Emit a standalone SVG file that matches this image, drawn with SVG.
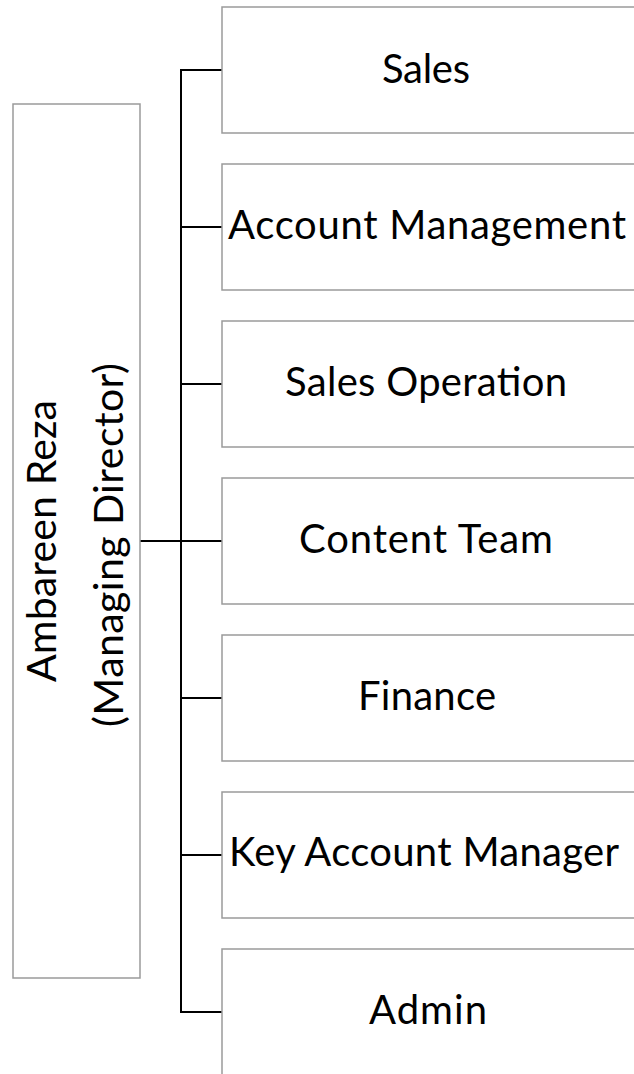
<svg xmlns="http://www.w3.org/2000/svg" width="634" height="1074" viewBox="0 0 634 1074">
  <style>
    .box { fill: #ffffff; stroke: #9a9a9a; stroke-width: 1.5; }
    .conn { fill: none; stroke: #000000; stroke-width: 2; }
    .lbl { font-family: Lato, "Liberation Sans", Arial, sans-serif; font-size: 40px; fill: #000000; text-anchor: middle; }
    .vlbl { font-family: Lato, "Liberation Sans", Arial, sans-serif; font-size: 41px; fill: #000000; text-anchor: middle; }
  </style>
  <rect width="634" height="1074" fill="#ffffff"/>

  <!-- connectors -->
  <g id="connectors">
    <path class="conn" d="M140 541 H222"/>
    <path class="conn" d="M222 70 H181 V1012 H222"/>
    <path class="conn" d="M181 227 H222"/>
    <path class="conn" d="M181 384 H222"/>
    <path class="conn" d="M181 698 H222"/>
    <path class="conn" d="M181 855 H222"/>
  </g>

  <!-- root -->
  <g id="node-director">
    <rect class="box" x="13" y="104" width="127" height="874"/>
    <text class="vlbl" transform="translate(56 541) rotate(-90)" textLength="282">Ambareen Reza</text>
    <text class="vlbl" transform="translate(123 545) rotate(-90)" textLength="364">(Managing Director)</text>
  </g>

  <!-- departments -->
  <g id="node-sales">
    <rect class="box" x="222" y="7" width="430" height="126"/>
    <text class="lbl" x="426" y="83" textLength="88">Sales</text>
  </g>
  <g id="node-account-management">
    <rect class="box" x="222" y="164" width="430" height="126"/>
    <text class="lbl" x="427" y="239" textLength="398">Account Management</text>
  </g>
  <g id="node-sales-operation">
    <rect class="box" x="222" y="321" width="430" height="126"/>
    <text class="lbl" x="426" y="396" textLength="282">Sales Operation</text>
  </g>
  <g id="node-content-team">
    <rect class="box" x="222" y="478" width="430" height="126"/>
    <text class="lbl" x="426" y="553" textLength="254">Content Team</text>
  </g>
  <g id="node-finance">
    <rect class="box" x="222" y="635" width="430" height="126"/>
    <text class="lbl" x="427" y="710" textLength="138">Finance</text>
  </g>
  <g id="node-key-account-manager">
    <rect class="box" x="222" y="792" width="430" height="126"/>
    <text class="lbl" x="424" y="866" textLength="390">Key Account Manager</text>
  </g>
  <g id="node-admin">
    <rect class="box" x="222" y="949" width="430" height="140"/>
    <text class="lbl" x="428" y="1024" textLength="118">Admin</text>
  </g>
</svg>
